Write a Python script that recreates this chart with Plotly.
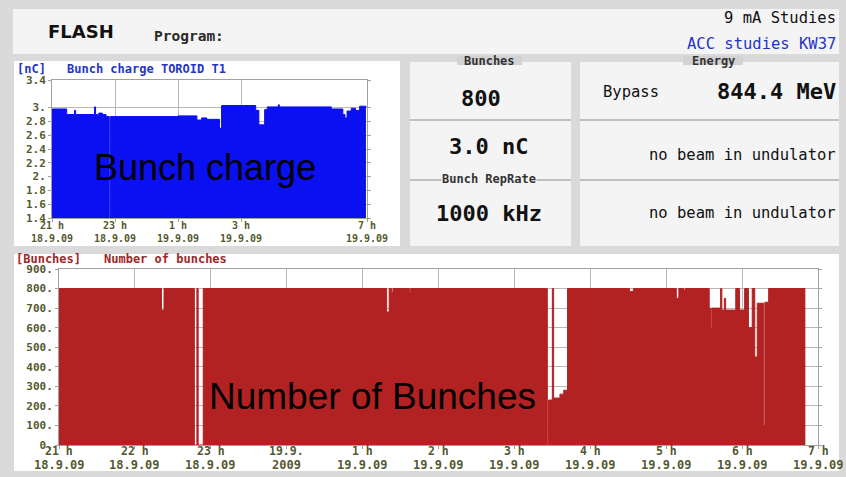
import plotly.graph_objects as go

W, H = 846, 477

# ---------------- data ----------------
charge_time = [
    "2009-09-18 21:00", "2009-09-18 21:28", "2009-09-18 21:43", "2009-09-18 21:45",
    "2009-09-18 22:21", "2009-09-18 22:23", "2009-09-18 22:27", "2009-09-18 22:29",
    "2009-09-18 22:36", "2009-09-18 22:43", "2009-09-18 22:49", "2009-09-18 22:51",
    "2009-09-19 01:00", "2009-09-19 01:36", "2009-09-19 01:45", "2009-09-19 01:55",
    "2009-09-19 02:19", "2009-09-19 02:23", "2009-09-19 03:28", "2009-09-19 03:34",
    "2009-09-19 03:45", "2009-09-19 03:50", "2009-09-19 04:11", "2009-09-19 04:13",
    "2009-09-19 05:52", "2009-09-19 06:14", "2009-09-19 06:18", "2009-09-19 06:22",
    "2009-09-19 06:30", "2009-09-19 06:38", "2009-09-19 06:46", "2009-09-19 06:58",
]
charge_nc = [
    2.98, 2.90, 2.96, 2.90,
    3.01, 2.90, 2.88, 2.92,
    2.90, 2.87, 1.40, 2.87,
    2.88, 2.82, 2.85, 2.83,
    2.70, 3.03, 2.96, 2.75,
    2.97, 3.01, 3.04, 3.01,
    2.98, 2.90, 2.85, 2.95,
    2.99, 2.96, 3.02, 3.00,
]

bunch_time = [
    "2009-09-18 21:00", "2009-09-18 22:21", "2009-09-18 22:23", "2009-09-18 22:47",
    "2009-09-18 22:49", "2009-09-18 22:50", "2009-09-18 22:54", "2009-09-19 01:19",
    "2009-09-19 01:21", "2009-09-19 01:23", "2009-09-19 01:24", "2009-09-19 01:37",
    "2009-09-19 01:38", "2009-09-19 03:26", "2009-09-19 03:27", "2009-09-19 03:30",
    "2009-09-19 03:31", "2009-09-19 03:36", "2009-09-19 03:39", "2009-09-19 03:42",
    "2009-09-19 04:31", "2009-09-19 04:34", "2009-09-19 05:08", "2009-09-19 05:10",
    "2009-09-19 05:14", "2009-09-19 05:15", "2009-09-19 05:34", "2009-09-19 05:35",
    "2009-09-19 05:36", "2009-09-19 05:43", "2009-09-19 05:44", "2009-09-19 05:46",
    "2009-09-19 05:47", "2009-09-19 05:55", "2009-09-19 05:58", "2009-09-19 06:02",
    "2009-09-19 06:05", "2009-09-19 06:08", "2009-09-19 06:10", "2009-09-19 06:12",
    "2009-09-19 06:17", "2009-09-19 06:18", "2009-09-19 06:21", "2009-09-19 06:50",
]
bunch_count = [
    800, 690, 800, 0,
    800, 0, 800, 680,
    800, 780, 800, 780,
    800, 0, 230, 800,
    240, 260, 280, 800,
    785, 800, 750, 800,
    790, 800, 700, 600,
    700, 800, 690, 750,
    690, 800, 690, 800,
    600, 800, 450, 725,
    100, 730, 800, 800,
]

charge_tick_time = ["2009-09-18 21:00", "2009-09-18 23:00", "2009-09-19 01:00",
                    "2009-09-19 03:00", "2009-09-19 07:00"]
charge_tick_hour = ["21 h", "23 h", "1 h", "3 h", "7 h"]
charge_tick_date = ["18.9.09", "18.9.09", "19.9.09", "19.9.09", "19.9.09"]
bunch_tick_time = ["2009-09-18 21:00", "2009-09-18 22:00", "2009-09-18 23:00",
                   "2009-09-19 00:00", "2009-09-19 01:00", "2009-09-19 02:00",
                   "2009-09-19 03:00", "2009-09-19 04:00", "2009-09-19 05:00",
                   "2009-09-19 06:00", "2009-09-19 07:00"]
bunch_tick_hour = ["21 h", "22 h", "23 h", "19.9.", "1 h", "2 h", "3 h", "4 h",
                   "5 h", "6 h", "7 h"]
bunch_tick_date = ["18.9.09", "18.9.09", "18.9.09", "2009", "19.9.09", "19.9.09",
                   "19.9.09", "19.9.09", "19.9.09", "19.9.09", "19.9.09"]
charge_yticks = [1.4, 1.6, 1.8, 2.0, 2.2, 2.4, 2.6, 2.8, 3.0, 3.4]
charge_ytext = ["1.4", "1.6", "1.8", "2.", "2.2", "2.4", "2.6", "2.8", "3.", "3.4"]
bunch_yticks = [0, 100, 200, 300, 400, 500, 600, 700, 800, 900]
bunch_ytext = ["0.", "100.", "200.", "300.", "400.", "500.", "600.", "700.", "800.", "900."]

# ---------------- styling helpers ----------------
MONO = "DejaVu Sans Mono"
SANS = "DejaVu Sans"
TICK = "#55592f"
GRID = "#b8b8b8"
FRAME = "#a0a0a0"
BLUE = "#0a10f0"
RED = "#b22222"
PANEL = "#f4f4f4"
OUTER = "#dadada"


def px(x):
    return x / W


def py(y):
    return 1 - y / H


shapes = []


def rect(x0, y0, x1, y1, fill, line=None):
    shapes.append(dict(type="rect", xref="paper", yref="paper", layer="below",
                       x0=px(x0), x1=px(x1), y0=py(y1), y1=py(y0),
                       fillcolor=fill, line=dict(width=0 if line is None else 1,
                                                  color=line or fill)))


def hline(x0, x1, y, color="#8c8c8c", width=1.2):
    shapes.append(dict(type="line", xref="paper", yref="paper", layer="below",
                       x0=px(x0), x1=px(x1), y0=py(y), y1=py(y),
                       line=dict(color=color, width=width)))


annotations = []


def text(s, x, y, size, color="#111111", bold=False, anchor="left",
         family=MONO, bg=None, xref="paper"):
    annotations.append(dict(text=s, xref=xref, yref="paper",
                            x=px(x) if xref == "paper" else x, y=py(y),
                            xanchor=anchor, yanchor="middle", showarrow=False,
                            bgcolor=bg, borderpad=0,
                            font=dict(family=family, size=size, color=color,
                                      weight="bold" if bold else "normal")))


# panels
rect(13, 9, 839, 54, PANEL)
rect(14, 61, 400, 246, "#ffffff")
rect(410, 62, 571, 246, PANEL)
rect(580, 62, 839, 246, PANEL)
rect(14, 254, 839, 471, "#ffffff")
# tabs
rect(457, 56, 522, 65, "#d2d2d2")
rect(683, 56, 743, 65, "#d2d2d2")
# separators
hline(410, 571, 120)
hline(410, 571, 180)
hline(580, 839, 120)
hline(580, 839, 180)

# header texts
text("FLASH", 47, 31, 18, "#111111", True, family=SANS)
text("Program:", 153, 36, 14.5, "#2a2a2a", True)
text("9 mA Studies", 837, 18, 15.5, "#111111", False, anchor="right")
text("ACC studies KW37", 837, 44, 15.5, "#1f35c8", False, anchor="right")

# chart titles
text("[nC]", 16, 69.5, 12, "#1f35c8", True)
text("Bunch charge TOROID T1", 66, 69.5, 12, "#1f35c8", True)
text("[Bunches]", 15, 259, 12, "#a02828", True)
text("Number of bunches", 103, 259, 12, "#a02828", True)

# x-axis time labels (placed on the axes' own date scale)
for t, hr, dt in zip(charge_tick_time, charge_tick_hour, charge_tick_date):
    text(hr, t, 225.5, 10, TICK, True, anchor="center", xref="x")
    text(dt, t, 238, 10, TICK, True, anchor="center", xref="x")
for t, hr, dt in zip(bunch_tick_time, bunch_tick_hour, bunch_tick_date):
    text(hr, t, 451, 11.5, TICK, True, anchor="center", xref="x2")
    text(dt, t, 465, 12, TICK, True, anchor="center", xref="x2")

# middle panel
text("Bunches", 489, 61, 12, "#333333", True, anchor="center")
text("800", 481, 98, 22, "#111111", True, anchor="center")
text("3.0 nC", 488, 147, 22, "#111111", True, anchor="center")
text("Bunch RepRate", 489, 179, 12, "#333333", True, anchor="center", bg=PANEL)
text("1000 kHz", 489, 213, 22, "#111111", True, anchor="center")

# right panel
text("Energy", 713, 61, 12, "#333333", True, anchor="center")
text("Bypass", 602, 92, 15.5, "#111111", False)
text("844.4 MeV", 837, 91, 22, "#111111", True, anchor="right")
text("no beam in undulator", 837, 155, 15.5, "#111111", False, anchor="right")
text("no beam in undulator", 837, 213, 15.5, "#111111", False, anchor="right")

# overlay labels
text("Bunch charge", 205, 168, 36, "#000000", False, anchor="center",
     family="Liberation Sans")
text("Number of Bunches", 372, 396, 37, "#000000", False, anchor="center",
     family="Liberation Sans")

# ---------------- figure ----------------
fig = go.Figure()
fig.add_trace(go.Scatter(
    x=charge_time, y=charge_nc, mode="lines",
    line=dict(shape="hv", color=BLUE, width=1),
    fill="tozeroy", fillcolor=BLUE, xaxis="x", yaxis="y", hoverinfo="skip"))
fig.add_trace(go.Scatter(
    x=bunch_time, y=bunch_count, mode="lines",
    line=dict(shape="hv", color=RED, width=1),
    fill="tozeroy", fillcolor=RED, xaxis="x2", yaxis="y2", hoverinfo="skip"))

common_axis = dict(showgrid=True, gridcolor=GRID, gridwidth=1, showline=True,
                   linecolor=FRAME, linewidth=1, zeroline=False, automargin=False,
                   ticks="outside", ticklen=3, tickcolor=FRAME, fixedrange=True)

fig.update_layout(
    width=W, height=H,
    margin=dict(l=0, r=0, t=0, b=0, pad=0, autoexpand=False),
    paper_bgcolor=OUTER,
    plot_bgcolor="#ffffff",
    showlegend=False,
    shapes=shapes,
    annotations=annotations,
    xaxis=dict(domain=[px(52), px(367)], anchor="y", type="date",
               range=["2009-09-18 21:00", "2009-09-19 07:00"],
               tickmode="array", tickvals=charge_tick_time, showticklabels=False,
               mirror=True, **common_axis),
    yaxis=dict(domain=[py(218), py(80)], anchor="x", range=[1.4, 3.4],
               tickmode="array", tickvals=charge_yticks, ticktext=charge_ytext,
               mirror="ticks",
               tickfont=dict(family=MONO, size=11, color=TICK, weight="bold"),
               **common_axis),
    xaxis2=dict(domain=[px(59), px(818)], anchor="y2", type="date",
                range=["2009-09-18 21:00", "2009-09-19 07:00"],
                tickmode="array", tickvals=bunch_tick_time, showticklabels=False,
                mirror=True, **common_axis),
    yaxis2=dict(domain=[py(445), py(269)], anchor="x2", range=[0, 900],
                tickmode="array", tickvals=bunch_yticks, ticktext=bunch_ytext,
                mirror="ticks",
                tickfont=dict(family=MONO, size=11, color=TICK, weight="bold"),
                **common_axis),
)

page_fix = ("document.body.style.margin='0px';"
            "document.body.style.background='" + OUTER + "';")
fig.write_html("out.html", post_script=page_fix,
               config={"displayModeBar": False, "staticPlot": True})
